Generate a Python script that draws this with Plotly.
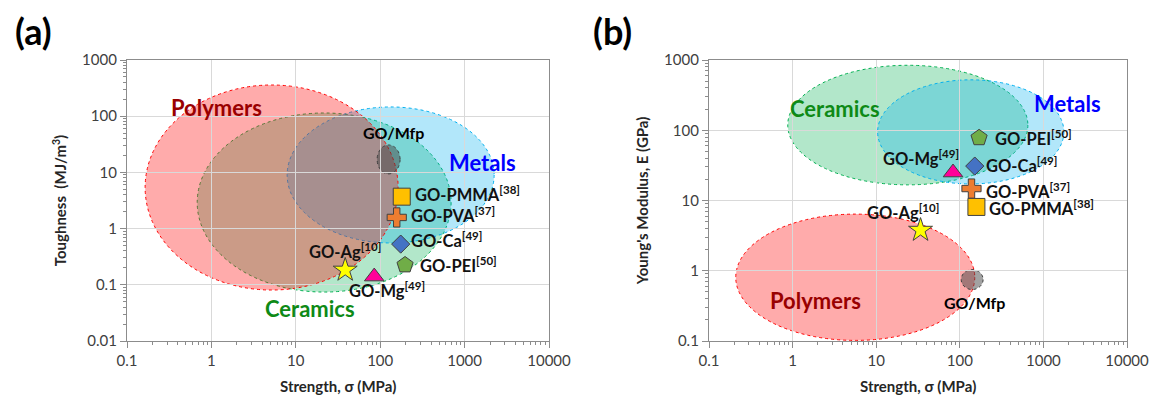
import numpy as np
import plotly.graph_objects as go

# ---------------- data ----------------
materials = ["GO-PMMA", "GO-PVA", "GO-Ca", "GO-PEI", "GO-Mg", "GO-Ag"]
refs = ["[38]", "[37]", "[49]", "[50]", "[49]", "[10]"]

# panel (a): strength (MPa) vs toughness (MJ/m3)
strength_a = [180, 157, 175, 197, 85, 38.5]
toughness_a = [3.7, 1.58, 0.53, 0.225, 0.14, 0.183]

# panel (b): strength (MPa) vs Young's modulus (GPa)
strength_b = [158, 138, 151, 170, 83, 33.9]
modulus_b = [8.1, 14.8, 30.9, 78, 25.0, 3.78]

# material-class regions: [min, max] of strength and of property
regions = ["Ceramics", "Metals", "Polymers", "GO/Mfp"]
region_strength_a = [[0.679, 692], [7.9, 2239], [0.164, 163], [92, 172]]
region_toughness_a = [[0.0743, 114], [0.555, 146], [0.0807, 359], [9.4, 30.8]]
region_strength_b = [[0.875, 652], [10.4, 1758], [0.209, 151], [104, 190]]
region_modulus_b = [[16.7, 841], [17.2, 522], [0.102, 6.4], [0.54, 1.04]]

# where the region names are written (data coordinates)
region_label_a = [[14.6, 0.0386], [1633, 15.3], [1.14, 140], [142, 52]]
region_label_b = [[3.19, 207], [1963, 244], [1.87, 0.38], [151, 0.356]]

x_tickvals = [0.1, 1, 10, 100, 1000, 10000]
x_ticktext = ["0.1", "1", "10", "100", "1000", "10000"]
ya_tickvals = [0.01, 0.1, 1, 10, 100, 1000]
ya_ticktext = ["0.01", "0.1", "1", "10", "100", "1000"]
yb_tickvals = [0.1, 1, 10, 100, 1000]
yb_ticktext = ["0.1", "1", "10", "100", "1000"]

x_title = "Strength, σ (MPa)"


def minor_vals(major):
    return [m * k for m in major[:-1] for k in range(2, 10)]


# ---------------- styles ----------------
FONT = "Lato"
region_fill = ["rgba(0,176,80,0.30)", "rgba(0,176,240,0.30)",
               "rgba(255,0,0,0.33)", "rgba(70,70,70,0.50)"]
region_line = ["#00B050", "#00B0F0", "#FF0000", "#404040"]
region_text_color = ["#0E8A16", "#0000FF", "#990000", "#000000"]
region_text_size = [22, 22, 22, 16]

mk_symbol = ["square", "cross", "diamond", "pentagon", "triangle-up", "star"]
mk_color = ["#FFC000", "#ED7D31", "#4472C4", "#70AD47", "#FF0099", "#FFFF00"]
mk_size = [17, 16, 14, 17, 17, 18]

# label offsets (px) relative to marker: (xanchor, xshift, yshift)
lab_a = [("left", 11, 3), ("left", 12, 2), ("left", 8, 4), ("left", 13, 0),
         ("left", -27, -13), ("center", 0, 19)]
lab_b = [("left", 11, -1), ("left", 13, -2), ("left", 9, 1), ("left", 14, 0),
         ("right", 8, 15), ("center", -18, 18)]

fig = go.Figure()

Y0, Y1 = 1 - 341 / 395, 1 - 60 / 395
XA = [127 / 1149, 549 / 1149]
XB = [709 / 1149, 1127 / 1149]

shapes = []
for i in range(len(regions)):
    for xr, yr, ax in ((region_strength_a, region_toughness_a, ""),
                       (region_strength_b, region_modulus_b, "2")):
        shapes.append(dict(type="circle", xref="x" + ax, yref="y" + ax,
                           x0=xr[i][0], x1=xr[i][1], y0=yr[i][0], y1=yr[i][1],
                           fillcolor=region_fill[i],
                           line=dict(color=region_line[i], width=1, dash="dot"),
                           layer="below"))

# markers
for xs, ys, ax in ((strength_a, toughness_a, ""), (strength_b, modulus_b, "2")):
    for i in range(len(materials)):
        fig.add_trace(go.Scatter(
            x=[xs[i]], y=[ys[i]], mode="markers", xaxis="x" + ax, yaxis="y" + ax,
            marker=dict(symbol=mk_symbol[i], color=mk_color[i], size=mk_size[i],
                        line=dict(color="#404040", width=1)),
            showlegend=False, hoverinfo="skip"))

annotations = []
for xs, ys, ax, labs in ((strength_a, toughness_a, "", lab_a),
                         (strength_b, modulus_b, "2", lab_b)):
    for i in range(len(materials)):
        anc, xsft, ysft = labs[i]
        annotations.append(dict(
            x=np.log10(xs[i]), y=np.log10(ys[i]), xref="x" + ax, yref="y" + ax,
            text=f"<b>{materials[i]}<sup>{refs[i]}</sup></b>", showarrow=False,
            xanchor=anc, yanchor="middle", xshift=xsft, yshift=ysft,
            font=dict(family=FONT, size=16.5, color="#111111")))

for pos, ax in ((region_label_a, ""), (region_label_b, "2")):
    for i in range(len(regions)):
        annotations.append(dict(
            x=np.log10(pos[i][0]), y=np.log10(pos[i][1]), xref="x" + ax, yref="y" + ax,
            text=f"<b>{regions[i]}</b>", showarrow=False,
            xanchor="center", yanchor="middle",
            font=dict(family=FONT, size=region_text_size[i], color=region_text_color[i])))

for txt, xp in (("(a)", 33 / 1149), ("(b)", 612 / 1149)):
    annotations.append(dict(x=xp, y=1 - 31 / 395, xref="paper", yref="paper",
                            text=f"<b>{txt}</b>", showarrow=False,
                            xanchor="center", yanchor="middle",
                            font=dict(family=FONT, size=36, color="#000000")))

title_font = dict(family=FONT, size=15, color="#262626")

# x-axis titles, placed just under the tick labels
for dom in (XA, XB):
    annotations.append(dict(x=(dom[0] + dom[1]) / 2, y=1 - 385.5 / 395,
                            xref="paper", yref="paper", text=f"<b>{x_title}</b>",
                            showarrow=False, xanchor="center", yanchor="middle",
                            font=title_font))

axis_common = dict(type="log", showgrid=True, gridcolor="#D9D9D9", gridwidth=1,
                   showline=True, linecolor="#8C8C8C", linewidth=1.3, mirror=True,
                   ticks="outside", ticklen=6, tickcolor="#8C8C8C", zeroline=False,
                   automargin=False, ticklabeloverflow="allow",
                   tickfont=dict(family=FONT, size=15, color="#404040"))


def minor(major):
    return dict(ticks="outside", ticklen=3, tickcolor="#8C8C8C", showgrid=False,
                tickmode="array", tickvals=minor_vals(major))


fig.update_layout(
    width=1149, height=395, margin=dict(l=0, r=0, t=0, b=0, autoexpand=False),
    paper_bgcolor="white", plot_bgcolor="white",
    shapes=shapes, annotations=annotations, showlegend=False,
    xaxis=dict(axis_common, domain=XA, anchor="y", range=[-1, 4],
               tickvals=x_tickvals, ticktext=x_ticktext, minor=minor(x_tickvals)),
    yaxis=dict(axis_common, domain=[Y0, Y1], anchor="x", range=[-2, 3],
               tickvals=ya_tickvals, ticktext=ya_ticktext, minor=minor(ya_tickvals),
               title=dict(text="<b>Toughness  (MJ/m<sup>3</sup>)</b>", font=title_font,
                          standoff=11)),
    xaxis2=dict(axis_common, domain=XB, anchor="y2", range=[-1, 4],
                tickvals=x_tickvals, ticktext=x_ticktext, minor=minor(x_tickvals)),
    yaxis2=dict(axis_common, domain=[Y0, Y1], anchor="x2", range=[-1, 3],
                tickvals=yb_tickvals, ticktext=yb_ticktext, minor=minor(yb_tickvals),
                title=dict(text="<b>Young's Modulus, E (GPa)</b>", font=title_font,
                           standoff=11)),
)

fig.write_html("out.html", config={"displayModeBar": False},
               post_script="document.body.style.margin='0';document.body.style.overflow='hidden';")
